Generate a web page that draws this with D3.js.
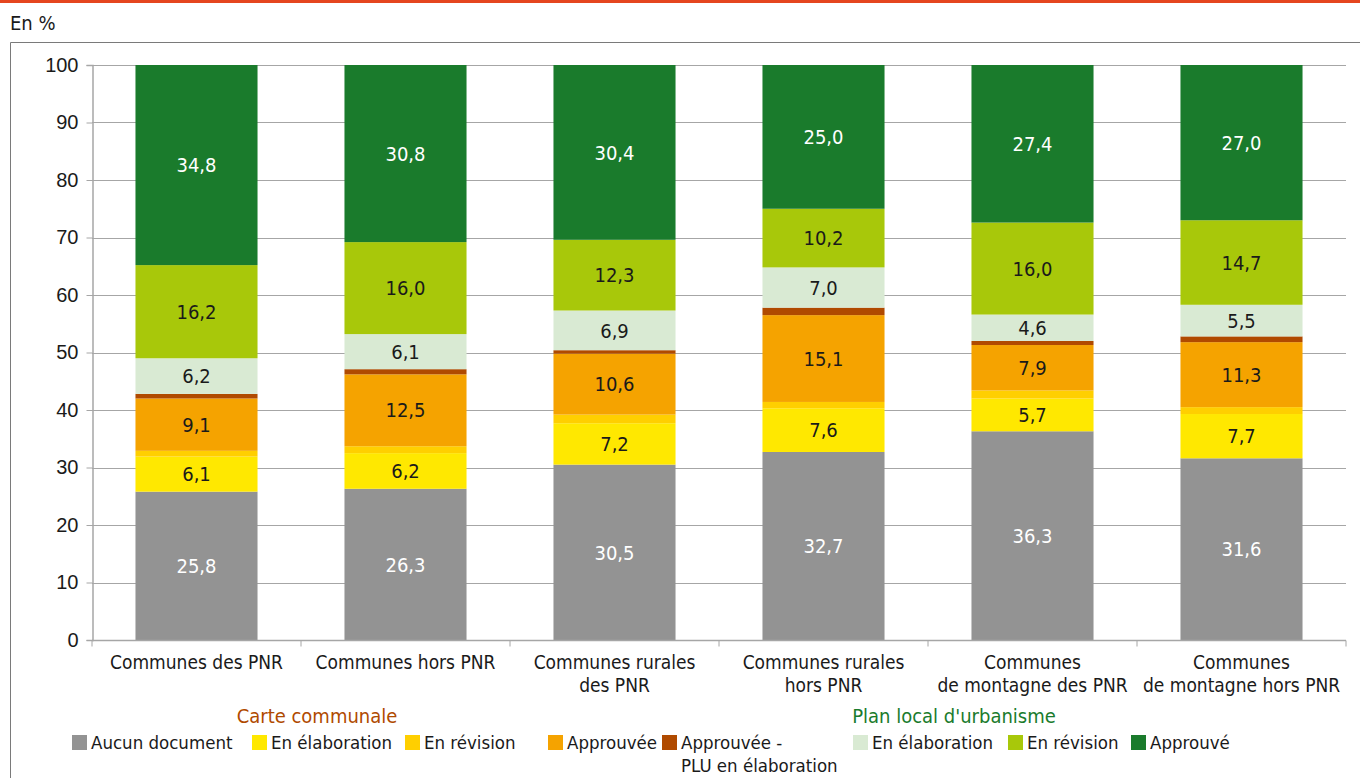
<!DOCTYPE html>
<html><head><meta charset="utf-8">
<script src="https://cdn.jsdelivr.net/npm/d3@7"></script>
<style>
body{margin:0;background:#fff;}
svg{display:block;font-family:"DejaVu Sans Condensed","Liberation Sans Narrow",sans-serif;}
</style></head>
<body><svg id="c" width="1360" height="778"></svg>
<script>
const categories = [
  ["Communes des PNR"],
  ["Communes hors PNR"],
  ["Communes rurales","des PNR"],
  ["Communes rurales","hors PNR"],
  ["Communes","de montagne des PNR"],
  ["Communes","de montagne hors PNR"]
];
const seriesNames = ["Aucun document","En élaboration","En révision","Approuvée","Approuvée -\nPLU en élaboration","En élaboration","En révision","Approuvé"];
const seriesColors = ["#939393","#ffe800","#ffcf00","#f5a300","#b04a00","#d9ead3","#a8c80a","#1a7b2c"];
const labelColors = ["#ffffff","#1a1a1a","#1a1a1a","#1a1a1a","#1a1a1a","#1a1a1a","#1a1a1a","#ffffff"];
const aucunDocument   = [25.8, 26.3, 30.5, 32.7, 36.3, 31.6];
const ccElaboration   = [6.1, 6.2, 7.2, 7.6, 5.7, 7.7];
const ccRevision      = [1.0, 1.2, 1.5, 1.1, 1.4, 1.2];
const ccApprouvee     = [9.1, 12.5, 10.6, 15.1, 7.9, 11.3];
const ccApprouveePlu  = [0.8, 0.9, 0.6, 1.3, 0.7, 1.0];
const pluElaboration  = [6.2, 6.1, 6.9, 7.0, 4.6, 5.5];
const pluRevision     = [16.2, 16.0, 12.3, 10.2, 16.0, 14.7];
const pluApprouve     = [34.8, 30.8, 30.4, 25.0, 27.4, 27.0];
const yTicks = [0,10,20,30,40,50,60,70,80,90,100];

const series = [aucunDocument, ccElaboration, ccRevision, ccApprouvee, ccApprouveePlu, pluElaboration, pluRevision, pluApprouve];
const rows = categories.map((c,i)=>{const o={cat:i}; series.forEach((s,k)=>o["s"+k]=s[i]); return o;});
const keys = series.map((s,k)=>"s"+k);
const stacked = d3.stack().keys(keys)(rows);

const svg = d3.select("#c");
const fmt = v => v.toFixed(1).replace(".", ",");

svg.append("rect").attr("x",0).attr("y",0).attr("width",1360).attr("height",3).attr("fill","#e5461f");
svg.append("text").attr("x",10).attr("y",30).attr("font-size",20).attr("fill","#1a1a1a").text("En %");
svg.append("path").attr("d","M10.5,778 V42.5 H1360").attr("fill","none").attr("stroke","#7a7a7a").attr("stroke-width",1);

const m = {l:92, r:1346, t:65, b:640};
const x = d3.scaleBand().domain(d3.range(categories.length)).range([m.l,m.r]).paddingInner(0.416).paddingOuter(0.208);
const y = d3.scaleLinear().domain([0,100]).range([m.b,m.t]);

svg.append("g").selectAll("line").data(yTicks.filter(t=>t>0)).join("line")
  .attr("x1",m.l).attr("x2",m.r).attr("y1",d=>Math.round(y(d))+0.5).attr("y2",d=>Math.round(y(d))+0.5)
  .attr("stroke","#a6a6a6").attr("stroke-width",1.2);

const ya = svg.append("g").attr("transform",`translate(${m.l+0.5},0)`)
  .call(d3.axisLeft(y).tickValues(yTicks).tickSize(6).tickPadding(8).tickFormat(d3.format("d")));
ya.select(".domain").attr("stroke","#a6a6a6").attr("stroke-width",1.5);
ya.selectAll(".tick line").attr("stroke","#a6a6a6");
ya.selectAll("text").attr("font-size",20).attr("fill","#1a1a1a").attr("font-family",null);

const g = svg.append("g");
stacked.forEach((layer,k)=>{
  g.append("g").attr("fill",seriesColors[k]).selectAll("rect").data(layer).join("rect")
    .attr("x",(d,i)=>x(i)).attr("width",x.bandwidth())
    .attr("y",d=>y(d[1])).attr("height",d=>y(d[0])-y(d[1]));
  if(k!==2 && k!==4){
    g.append("g").selectAll("text").data(layer).join("text")
      .attr("x",(d,i)=>x(i)+x.bandwidth()/2).attr("y",d=>(y(d[0])+y(d[1]))/2)
      .attr("dy","0.36em").attr("text-anchor","middle").attr("font-size",20)
      .attr("fill",labelColors[k]).text(d=>fmt(d[1]-d[0]));
  }
});

const xa = svg.append("g").attr("transform",`translate(0,${m.b+0.5})`);
xa.append("line").attr("x1",m.l).attr("x2",m.r).attr("stroke","#a6a6a6").attr("stroke-width",1.5);
const step = x.step();
xa.selectAll(".tk").data(d3.range(categories.length+1)).join("line").attr("class","tk")
  .attr("x1",i=>m.l+i*step).attr("x2",i=>m.l+i*step).attr("y1",0).attr("y2",6).attr("stroke","#a6a6a6");
const cl = xa.selectAll(".cl").data(categories).join("text").attr("class","cl")
  .attr("text-anchor","middle").attr("font-size",19).attr("fill","#1a1a1a")
  .attr("transform",(d,i)=>`translate(${x(i)+x.bandwidth()/2},28)`);
cl.selectAll("tspan").data(d=>d).join("tspan").attr("x",0).attr("dy",(d,j)=>j?"1.22em":0).text(d=>d);

svg.append("text").attr("x",317).attr("y",723).attr("text-anchor","middle").attr("font-size",20).attr("fill","#b04a00").text("Carte communale");
svg.append("text").attr("x",954).attr("y",723).attr("text-anchor","middle").attr("font-size",20).attr("fill","#1a7b2c").text("Plan local d'urbanisme");
const legX = [72, 252, 405, 548, 662, 853, 1008, 1131];
const lg = svg.append("g");
seriesNames.forEach((n,k)=>{
  lg.append("rect").attr("x",legX[k]).attr("y",735).attr("width",15).attr("height",15).attr("fill",seriesColors[k]);
  const t = lg.append("text").attr("x",legX[k]+19).attr("y",749).attr("font-size",18.5).attr("fill","#1a1a1a");
  n.split("\n").forEach((line,j)=>t.append("tspan").attr("x",legX[k]+19).attr("dy",j?"1.22em":0).text(line));
});
</script></body></html>
